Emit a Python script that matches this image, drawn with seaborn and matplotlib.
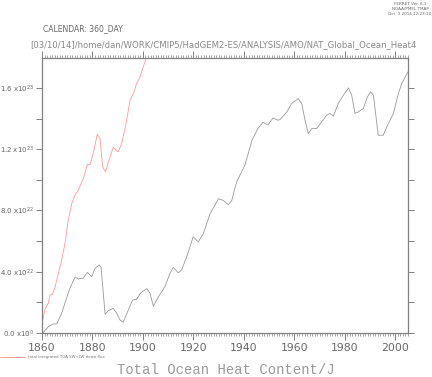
import matplotlib
matplotlib.use("Agg")
import matplotlib.pyplot as plt
import seaborn as sns
import pandas as pd
import numpy as np
from matplotlib.ticker import MultipleLocator, FixedLocator

sns.set_style("white")
plt.rcParams['font.family'] = ['DejaVu Sans']

# Total ocean heat content (units of 1e22 J)
ohc_years = [1860.3, 1862.5, 1864.5, 1865.8, 1867.8, 1869.1, 1871.1, 1873.1, 1874.4, 1876.4,
             1878.0, 1879.7, 1881.0, 1882.7, 1883.4, 1885.0, 1886.3, 1888.2, 1889.6, 1890.9,
             1892.2, 1894.2, 1895.9, 1897.5, 1899.0, 1901.5, 1902.8, 1904.1, 1906.1, 1908.7,
             1910.7, 1912.0, 1914.0, 1915.3, 1917.3, 1919.9, 1921.9, 1923.9, 1926.6, 1929.9,
             1931.9, 1933.8, 1935.2, 1936.5, 1937.4, 1940.4, 1943.2, 1945.6, 1947.6, 1949.5,
             1951.5, 1953.5, 1954.3, 1957.0, 1958.9, 1961.5, 1962.9, 1964.2, 1965.5, 1966.9,
             1968.8, 1970.8, 1972.8, 1974.1, 1975.4, 1977.4, 1979.4, 1981.4, 1982.7, 1984.0,
             1985.3, 1987.3, 1988.9, 1990.2, 1991.3, 1993.2, 1995.2, 1997.2, 1999.2, 2001.2,
             2002.5, 2005.0]
ohc_values = [0.0, 0.41, 0.59, 0.59, 1.29, 1.96, 2.94, 3.65, 3.52, 3.59,
              3.96, 3.67, 4.22, 4.44, 4.30, 1.22, 1.46, 1.61, 1.29, 0.85,
              0.70, 1.50, 2.15, 2.20, 2.60, 2.90, 2.59, 1.75, 2.36, 3.02,
              3.89, 4.28, 3.93, 4.11, 4.97, 6.28, 5.94, 6.49, 7.79, 8.76,
              8.65, 8.37, 8.65, 9.52, 9.96, 10.96, 12.59, 13.37, 13.76, 13.57,
              14.03, 13.89, 13.93, 14.43, 14.98, 15.30, 14.98, 13.89, 13.02, 13.35,
              13.35, 13.78, 14.22, 14.33, 14.15, 14.98, 15.52, 16.00, 15.52, 14.33,
              14.43, 14.65, 15.41, 15.74, 15.52, 12.91, 12.91, 13.67, 14.33, 15.63,
              16.28, 17.05]

# Total integrated TOA SW+LW down flux (units of 1e22 J)
toa_years = [1860.3, 1861.2, 1862.5, 1863.2, 1864.2, 1865.2, 1866.5, 1867.8, 1869.1, 1870.4,
             1871.8, 1873.1, 1874.4, 1876.4, 1878.0, 1879.0, 1880.6, 1881.9, 1883.0, 1884.0,
             1885.2, 1886.3, 1888.2, 1890.2, 1891.6, 1893.3, 1894.9, 1896.5, 1897.5, 1898.8,
             1900.1, 1901.2, 1902.5, 1903.5]
toa_values = [0.85, 1.55, 1.94, 2.48, 2.54, 3.02, 3.89, 4.76, 5.85, 7.37,
              8.46, 9.00, 9.33, 10.09, 11.02, 10.96, 11.94, 12.98, 12.70, 10.85,
              10.52, 11.17, 12.11, 11.83, 12.38, 13.68, 15.20, 15.74, 16.29, 16.70,
              17.37, 17.90, 18.40, 18.90]

x_ticks = [1860, 1880, 1900, 1920, 1940, 1960, 1980, 2000]
y_ticks = [0, 4, 8, 12, 16]
y_tick_labels = [r'0.0 x10$^{0}$', r'4.0 x10$^{22}$', r'8.0 x10$^{22}$',
                 r'1.2 x10$^{23}$', r'1.6 x10$^{23}$']

df_ohc = pd.DataFrame({'year': ohc_years, 'value': ohc_values})
df_toa = pd.DataFrame({'year': toa_years, 'value': toa_values})

fig = plt.figure(figsize=(4.32, 3.77), dpi=100)
ax = fig.add_axes([42/432, 1 - 333/377, (408-42)/432, (333-58)/377])

sns.lineplot(data=df_toa, x='year', y='value', ax=ax, color='#ff9a9a', lw=0.6, sort=False)
sns.lineplot(data=df_ohc, x='year', y='value', ax=ax, color='#999999', lw=0.6, sort=False)

ax.set_xlim(1860, 2005)
ax.set_ylim(0, 17.95)
ax.set_xlabel('')
ax.set_ylabel('')

axis_col = '#808080'
for s in ax.spines.values():
    s.set_visible(True)
    s.set_color(axis_col)
    s.set_linewidth(0.9)

ax.xaxis.set_major_locator(FixedLocator(x_ticks))
ax.xaxis.set_minor_locator(MultipleLocator(1))
ax.set_xticklabels([str(t) for t in x_ticks])
ax.yaxis.set_major_locator(FixedLocator(y_ticks))
ax.yaxis.set_minor_locator(MultipleLocator(2))
ax.set_yticklabels(y_tick_labels)

ax.tick_params(axis='x', which='major', direction='out', length=5, width=0.7,
               color=axis_col, labelcolor='#666666', labelsize=7.8, pad=2,
               top=True, bottom=True)
ax.tick_params(axis='y', which='major', direction='out', length=4, width=0.7,
               color=axis_col, labelcolor='#666666', labelsize=5.0, pad=1.5,
               left=True, right=True)
ax.tick_params(axis='x', which='minor', direction='out', length=2.5, width=0.5,
               color=axis_col, top=True, bottom=True)
ax.tick_params(axis='y', which='minor', direction='out', length=4, width=0.7,
               color=axis_col, left=True, right=True)

# Header texts
fig.text(410/432, 1 - 4/377, 'FERRET Ver. 6.1', ha='center', va='center',
         fontsize=3, color='#666666')
fig.text(410/432, 1 - 9/377, 'NOAA/PMEL TMAP', ha='center', va='center',
         fontsize=3, color='#666666')
fig.text(410/432, 1 - 14/377, 'Oct  3 2014 12:23:20', ha='center', va='center',
         fontsize=3, color='#666666')
fig.text(43/432, 1 - 29/377, 'CALENDAR: 360_DAY', ha='left', va='center',
         fontsize=5.5, color='#666666')
fig.text(30/432, 1 - 45/377,
         '[03/10/14]/home/dan/WORK/CMIP5/HadGEM2-ES/ANALYSIS/AMO/NAT_Global_Ocean_Heat4',
         ha='left', va='center', fontsize=6.1, color='#888888')

# Legend key
fig.add_artist(plt.Line2D([0, 25/432], [1 - 357/377, 1 - 357/377],
                          color='#ff9a9a', lw=0.7, transform=fig.transFigure))
fig.text(28/432, 1 - 357/377, 'total integrated TOA SW+LW down flux', ha='left',
         va='center', fontsize=2.8, color='#777777')

fig.text(226/432, 1 - 370/377, 'Total Ocean Heat Content/J', ha='center', va='center',
         fontsize=10, color='#999999', family=['Liberation Mono'])

fig.savefig('out.png', dpi=100)
